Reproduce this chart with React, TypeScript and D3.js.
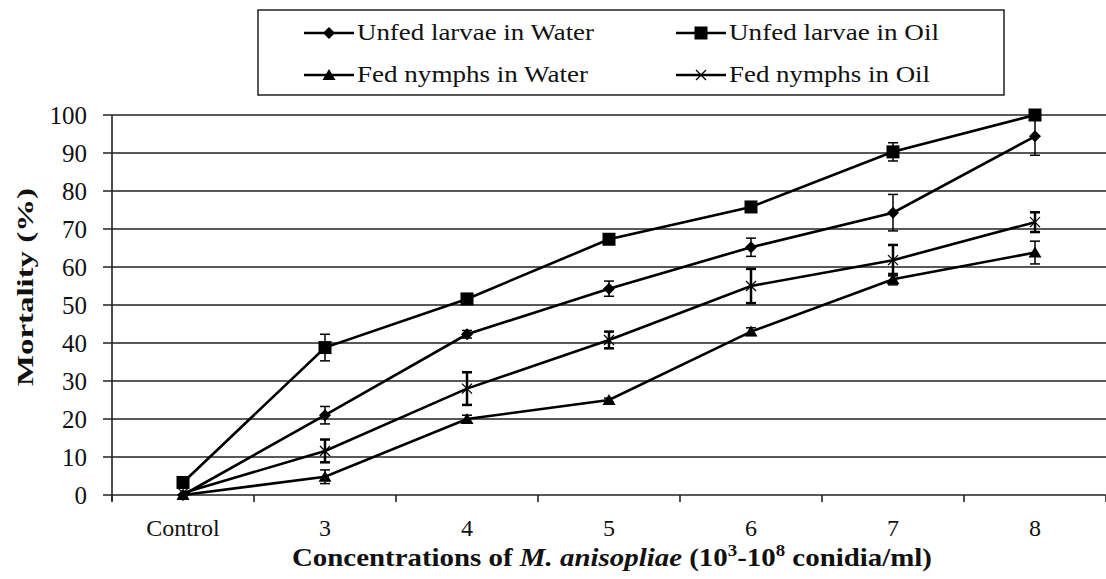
import React from 'react';
import * as d3 from 'd3';

const categories = ['Control', '3', '4', '5', '6', '7', '8'];
const yTicks = [0, 10, 20, 30, 40, 50, 60, 70, 80, 90, 100];

const unfedWater = [0, 21, 42.3, 54.3, 65.2, 74.3, 94.4];
const unfedWaterErr = [0, 2.3, 1, 2, 2.4, 4.8, 5];
const unfedOil = [3.3, 38.8, 51.6, 67.3, 75.8, 90.3, 100];
const unfedOilErr = [0, 3.5, 0.5, 0.5, 0.5, 2.4, 0];
const fedWater = [0, 4.8, 20, 25, 43, 56.8, 63.8];
const fedWaterErr = [0, 1.8, 1, 0.5, 1, 1.5, 3];
const fedOil = [0.5, 11.6, 28, 40.8, 55, 61.8, 71.8];
const fedOilErr = [0, 3, 4.3, 2.2, 4.5, 4, 2.6];

type Series = { name: string; values: number[]; err: number[]; marker: 'diamond' | 'square' | 'triangle' | 'x'; capW: number };

const series: Series[] = [
  { name: 'Unfed larvae in Water', values: unfedWater, err: unfedWaterErr, marker: 'diamond', capW: 1.5 },
  { name: 'Unfed larvae in Oil', values: unfedOil, err: unfedOilErr, marker: 'square', capW: 1.5 },
  { name: 'Fed nymphs in Water', values: fedWater, err: fedWaterErr, marker: 'triangle', capW: 1.5 },
  { name: 'Fed nymphs in Oil', values: fedOil, err: fedOilErr, marker: 'x', capW: 2.5 },
];

const W = 1106;
const H = 579;
const left = 112;
const right = 1106;
const top = 115;
const bottom = 495;
const FF = 'Liberation Serif';

function T(props: React.SVGProps<SVGTextElement>) {
  return <text fontFamily={FF} style={{ fontFamily: `'${FF}'` }} {...props} />;
}

function Marker({ type, x, y }: { type: Series['marker']; x: number; y: number }) {
  if (type === 'diamond') {
    return <path d={`M${x},${y - 6}L${x + 6},${y}L${x},${y + 6}L${x - 6},${y}Z`} fill="#000" />;
  }
  if (type === 'square') {
    return <rect x={x - 6.5} y={y - 6.5} width={13} height={13} fill="#000" />;
  }
  if (type === 'triangle') {
    return <path d={`M${x},${y - 6}L${x + 6.5},${y + 5}L${x - 6.5},${y + 5}Z`} fill="#000" />;
  }
  return (
    <path d={`M${x - 5},${y - 5}L${x + 5},${y + 5}M${x - 5},${y + 5}L${x + 5},${y - 5}`} stroke="#000" strokeWidth={1.3} />
  );
}

export default function App() {
  const x = d3.scaleBand<string>().domain(categories).range([left, right]);
  const y = d3.scaleLinear().domain([0, 100]).range([bottom, top]);
  const cx = (c: string) => (x(c) ?? 0) + x.bandwidth() / 2;
  const line = d3.line<number>().x((_, i) => cx(categories[i])).y(d => y(d));
  const boundaries = categories.map(c => x(c) ?? 0).concat([right]);

  // legend rows: line start, text length
  const legendItems = [
    { s: series[0], lx: 304, ly: 33, tl: 237 },
    { s: series[1], lx: 676, ly: 33, tl: 210 },
    { s: series[2], lx: 304, ly: 75, tl: 231 },
    { s: series[3], lx: 676, ly: 75, tl: 201 },
  ];

  return (
    <svg width={W} height={H} fontFamily={FF} style={{ display: 'block', position: 'absolute', left: 0, top: 0 }}>
      <style>{`text, tspan { font-family: 'Liberation Serif', 'Times New Roman', serif; }`}</style>
      <rect x={0} y={0} width={W} height={H} fill="#fff" />
      {/* gridlines */}
      {yTicks.map(t => (
        <line key={t} x1={left - 9} x2={right} y1={y(t)} y2={y(t)} stroke="#222" strokeWidth={1.6} />
      ))}
      {yTicks.map(t => (
        <T key={'l' + t} x={87} y={y(t) + 9} textAnchor="end" fontSize={25} fill="#111">{t}</T>
      ))}
      {/* y axis */}
      <line x1={left} x2={left} y1={top} y2={bottom + 6} stroke="#222" strokeWidth={1.6} />
      {boundaries.map((b, i) => (
        <line key={'t' + i} x1={b} x2={b} y1={bottom} y2={bottom + 7} stroke="#222" strokeWidth={1.6} />
      ))}
      {categories.map(c => (
        <T key={c} x={cx(c)} y={536} textAnchor="middle" fontSize={24} fill="#111">{c}</T>
      ))}

      {/* series */}
      {series.map(s => (
        <g key={s.name}>
          <path d={line(s.values) ?? ''} fill="none" stroke="#000" strokeWidth={2.6} />
          {s.values.map((v, i) => {
            const px = cx(categories[i]);
            const e = s.err[i];
            if (!e) return null;
            return (
              <g key={i} stroke="#000" strokeWidth={s.capW}>
                <line x1={px} x2={px} y1={y(v + e)} y2={y(v - e)} />
                <line x1={px - 5} x2={px + 5} y1={y(v + e)} y2={y(v + e)} />
                <line x1={px - 5} x2={px + 5} y1={y(v - e)} y2={y(v - e)} />
              </g>
            );
          })}
          {s.values.map((v, i) => (
            <Marker key={'m' + i} type={s.marker} x={cx(categories[i])} y={y(v)} />
          ))}
        </g>
      ))}

      {/* axis titles */}
      <T transform={`translate(33,287) rotate(-90)`} textAnchor="middle" fontSize={24} fontWeight="bold" fill="#111"
        textLength={198} lengthAdjust="spacingAndGlyphs">
        Mortality (%)
      </T>
      <T x={292} y={566} fontSize={26} fontWeight="bold" fill="#111" textLength={640} lengthAdjust="spacingAndGlyphs">
        Concentrations  of <tspan fontStyle="italic">M. anisopliae</tspan> (10<tspan fontSize={17} dy={-10}>3</tspan><tspan dy={10}>-10</tspan><tspan fontSize={17} dy={-10}>8</tspan><tspan dy={10}> conidia/ml)</tspan>
      </T>

      {/* legend */}
      <rect x={258} y={10} width={746} height={85} fill="#fff" stroke="#222" strokeWidth={1.5} />
      {legendItems.map(({ s, lx, ly, tl }) => (
        <g key={'lg' + s.name}>
          <line x1={lx} x2={lx + 50} y1={ly} y2={ly} stroke="#000" strokeWidth={2.6} />
          <Marker type={s.marker} x={lx + 25} y={ly} />
          <T x={lx + 53} y={ly + 7} fontSize={23} fill="#111" textLength={tl} lengthAdjust="spacingAndGlyphs">{s.name}</T>
        </g>
      ))}
    </svg>
  );
}
